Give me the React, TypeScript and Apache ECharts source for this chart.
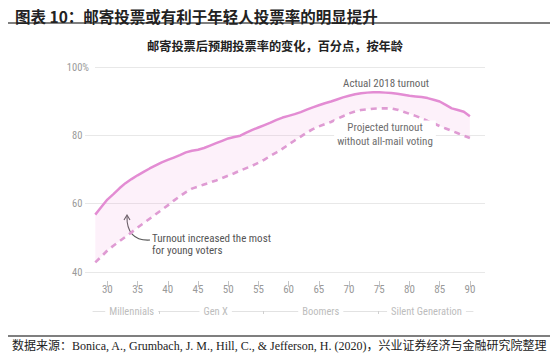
import React, { useEffect, useRef } from 'react';
import * as echarts from 'echarts';

const ages = [28, 29, 30, 31, 32, 33, 34, 35, 36, 37, 38, 39, 40, 41, 42, 43, 44, 45, 46, 47, 48, 49, 50, 51, 52, 53, 54, 55, 56, 57, 58, 59, 60, 61, 62, 63, 64, 65, 66, 67, 68, 69, 70, 71, 72, 73, 74, 75, 76, 77, 78, 79, 80, 81, 82, 83, 84, 85, 86, 87, 88, 89, 90];

const actualTurnout = [56.8, 59.0, 61.2, 62.8, 64.5, 66.0, 67.2, 68.3, 69.3, 70.3, 71.2, 72.1, 72.8, 73.5, 74.2, 75.0, 75.5, 75.8, 76.3, 77.0, 77.7, 78.4, 79.1, 79.5, 79.9, 80.8, 81.6, 82.3, 83.0, 83.7, 84.5, 85.2, 85.7, 86.2, 86.8, 87.5, 88.2, 88.8, 89.4, 89.9, 90.5, 91.1, 91.6, 92.0, 92.3, 92.5, 92.6, 92.6, 92.5, 92.4, 92.2, 91.9, 91.6, 91.4, 91.2, 90.9, 90.4, 89.9, 88.9, 87.9, 87.4, 86.9, 85.6];

const projectedTurnout = [42.8, 44.5, 46.3, 47.7, 49.0, 50.3, 51.6, 53.0, 54.3, 55.6, 56.9, 58.2, 59.5, 60.9, 62.2, 63.4, 64.4, 65.0, 65.6, 66.2, 66.8, 67.5, 68.2, 68.9, 69.7, 70.4, 71.1, 72.0, 72.9, 74.0, 75.0, 76.1, 77.3, 78.5, 79.6, 80.8, 81.8, 82.6, 83.3, 83.9, 84.8, 85.6, 86.4, 87.0, 87.4, 87.6, 87.8, 87.9, 87.9, 87.9, 87.5, 86.9, 86.3, 85.7, 85.0, 84.2, 83.5, 82.7, 82.0, 81.3, 80.6, 79.9, 79.2];

const xTickAges = [30, 35, 40, 45, 50, 55, 60, 65, 70, 75, 80, 85, 90];
const yTickValues = [40, 60, 80, 100];
const generationNames = ['Millennials', 'Gen X', 'Boomers', 'Silent Generation'];
const generationCenters = [34, 47.9, 65.3, 82.8];
const generationBounds = [38.5, 55.8, 74.8];

export default function App() {
  const ref = useRef<HTMLDivElement>(null);

  useEffect(() => {
    const chart = echarts.init(ref.current as HTMLDivElement, null, { renderer: 'svg' });
    const FONT = "'Liberation Sans Narrow', 'Roboto Condensed', Roboto, sans-serif";
    const CJK = "'Noto Sans CJK SC', sans-serif";
    const pink = '#e38cd3';

    const option: any = {
      animation: false,
      backgroundColor: '#ffffff',
      title: [
        {
          text: '图表 10：邮寄投票或有利于年轻人投票率的明显提升',
          left: 10,
          top: 3,
          textStyle: { fontFamily: CJK, fontSize: 15.5, fontWeight: 'bold', color: '#222' },
        },
        {
          text: '邮寄投票后预期投票率的变化，百分点，按年龄',
          left: 'center',
          top: 35,
          textStyle: { fontFamily: CJK, fontSize: 12.2, fontWeight: 'bold', color: '#222' },
        },
      ],
      grid: [
        { left: 85, right: 65, top: 67, height: 205 },
        { left: 93, right: 77, top: 311, height: 0 },
      ],
      xAxis: [
        {
          type: 'value',
          gridIndex: 0,
          min: 26.3,
          max: 92.5,
          offset: 9,
          axisLine: { show: false },
          splitLine: { show: false },
          axisTick: { show: true, customValues: xTickAges, length: 6, lineStyle: { color: '#c4c4c4' } },
          axisLabel: { customValues: xTickAges, margin: 3, color: '#9a9a9a', fontSize: 11, fontFamily: FONT },
        },
        {
          type: 'value',
          gridIndex: 1,
          min: 27.6,
          max: 90.5,
          axisLine: { show: true, lineStyle: { color: '#e2e2e2', width: 1 } },
          splitLine: { show: false },
          axisTick: { show: true, customValues: generationBounds, length: 3, lineStyle: { color: '#d0d0d0' } },
          axisLabel: {
            customValues: generationCenters,
            formatter: (v: number) => generationNames[generationCenters.indexOf(v)] ?? '',
            margin: 0,
            verticalAlign: 'middle',
            backgroundColor: '#fff',
            padding: [1, 4],
            color: '#bdbdbd',
            fontSize: 10.5,
            fontFamily: FONT,
          },
        },
      ],
      yAxis: [
        {
          type: 'value',
          gridIndex: 0,
          min: 40,
          max: 100,
          interval: 20,
          axisLine: { show: false },
          axisTick: { show: false },
          splitLine: { show: true, lineStyle: { color: '#e8e8e8', width: 1 } },
          axisLabel: {
            customValues: yTickValues,
            margin: -10,
            formatter: (v: number) => (v === 100 ? '{n|100}{p|%}' : `{n|${v}}{q|%}`),
            rich: {
              n: { color: '#9a9a9a', fontSize: 10.5, fontFamily: FONT },
              p: { color: '#9a9a9a', fontSize: 10.5, fontFamily: FONT, backgroundColor: '#fff', padding: [2, 6, 2, 0] },
              q: { color: 'rgba(0,0,0,0)', fontSize: 10.5, fontFamily: FONT, padding: [2, 6, 2, 0] },
            },
          },
        },
        { type: 'value', gridIndex: 1, show: false, min: 0, max: 1 },
      ],
      series: [
        {
          name: 'gap',
          type: 'custom',
          xAxisIndex: 0,
          yAxisIndex: 0,
          silent: true,
          z: 1,
          data: ages.map((a, i) => [a, actualTurnout[i], projectedTurnout[i]]),
          encode: { x: 0, y: [1, 2] },
          renderItem: (params: any, api: any) => {
            if (params.dataIndex !== 0) return null;
            const top = ages.map((a, i) => api.coord([a, actualTurnout[i]]));
            const bottom = ages.map((a, i) => api.coord([a, projectedTurnout[i]])).reverse();
            return {
              type: 'polygon',
              shape: { points: top.concat(bottom) },
              style: { fill: 'rgba(240,160,220,0.15)', stroke: null },
            };
          },
        },
        {
          name: 'Actual 2018 turnout',
          type: 'line',
          xAxisIndex: 0,
          yAxisIndex: 0,
          data: ages.map((a, i) => [a, actualTurnout[i]]),
          symbol: 'none',
          z: 4,
          lineStyle: { color: pink, width: 2.5 },
        },
        {
          name: 'Projected turnout without all-mail voting',
          type: 'line',
          xAxisIndex: 0,
          yAxisIndex: 0,
          data: ages.map((a, i) => [a, projectedTurnout[i]]),
          symbol: 'none',
          z: 4,
          lineStyle: { color: '#df9bd3', width: 2.6, type: [6, 5] },
        },
      ],
      graphic: [
        { type: 'line', shape: { x1: 8, y1: 23, x2: 550, y2: 23 }, style: { stroke: '#555', lineWidth: 1.5 } },
        { type: 'line', shape: { x1: 8, y1: 336, x2: 550, y2: 336 }, style: { stroke: '#555', lineWidth: 1.5 } },
        {
          type: 'text',
          x: 386,
          y: 83,
          style: { text: 'Actual 2018 turnout', fill: '#666', fontSize: 11, fontFamily: FONT, align: 'center', verticalAlign: 'middle' },
        },
        {
          type: 'text',
          x: 385,
          y: 134.5,
          z: 10,
          style: {
            text: 'Projected turnout\nwithout all-mail voting',
            fill: '#6e6e6e',
            fontSize: 11,
            lineHeight: 14,
            fontFamily: FONT,
            align: 'center',
            verticalAlign: 'middle',
            backgroundColor: '#fff',
            padding: [0, 3],
          },
        },
        {
          type: 'text',
          x: 152,
          y: 244.5,
          style: {
            text: 'Turnout increased the most\nfor young voters',
            fill: '#555',
            fontSize: 11,
            lineHeight: 12.5,
            fontFamily: FONT,
            align: 'left',
            verticalAlign: 'middle',
          },
        },
        {
          type: 'bezierCurve',
          shape: { x1: 150, y1: 240, cpx1: 134, cpy1: 241, cpx2: 126.5, cpy2: 232, x2: 127, y2: 216 },
          style: { stroke: '#555', lineWidth: 1.1, fill: null },
        },
        {
          type: 'polyline',
          shape: { points: [[124, 220], [127, 215], [130, 220]] },
          style: { stroke: '#555', lineWidth: 1.1, fill: null },
        },
        {
          type: 'text',
          x: 12,
          y: 346,
          style: {
            text: '数据来源：Bonica, A., Grumbach, J. M., Hill, C., & Jefferson, H. (2020)，兴业证券经济与金融研究院整理',
            fill: '#222',
            fontSize: 12,
            fontFamily: "'Liberation Serif', 'Noto Sans CJK SC', serif",
            verticalAlign: 'middle',
          },
        },
      ],
    };

    chart.setOption(option);
    return () => {
      chart.dispose();
    };
  }, []);

  return (
    <div
      ref={ref}
      style={{ position: 'fixed', left: 0, top: 0, width: 550, height: 355, background: '#fff' }}
    />
  );
}
